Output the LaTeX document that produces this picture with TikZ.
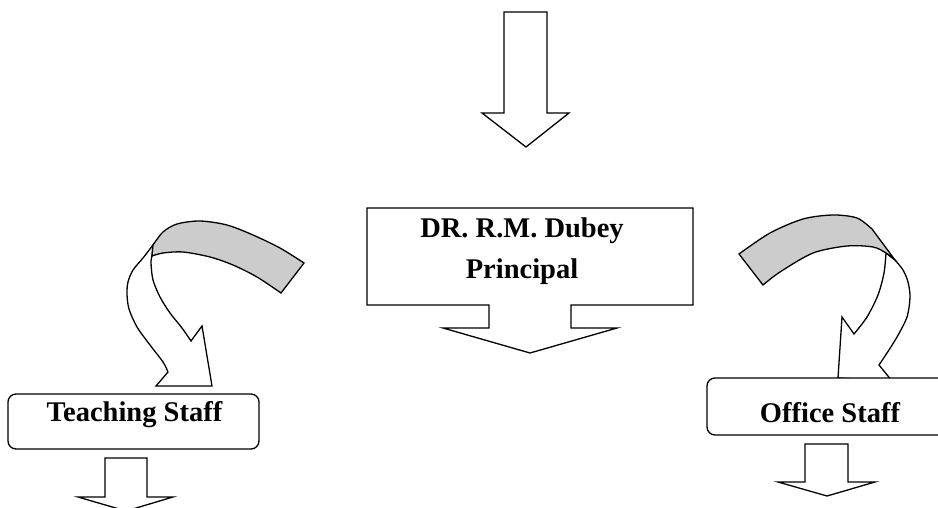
\documentclass[tikz,border=0pt]{standalone}
\usepackage{fontspec}
\setmainfont{Liberation Serif}
\begin{document}
\begin{tikzpicture}[x=1pt,y=-1pt,
  shp/.style={draw=black, fill=white, line width=1.3pt, line join=miter},
  band/.style={draw=black, fill=gray!40, line width=1.3pt},
  lbl/.style={font=\fontsize{28.5}{34}\selectfont\bfseries, inner sep=0pt, anchor=base}]
\useasboundingbox (0,0) rectangle (938,508);
\clip (0,0) rectangle (938,508);

% top block arrow
\draw[shp] (504,12) -- (547,12) -- (547,113) -- (569,113) -- (526,147) -- (482,113) -- (504,113) -- cycle;

% principal callout box
\draw[shp] (367,208) -- (693,208) -- (693,305) -- (571,305) -- (571,328) -- (617,328) -- (530,353)
  -- (443,328) -- (489,328) -- (489,305) -- (367,305) -- cycle;
\node[lbl] (p1) at (522,237) {DR. R.M. Dubey};
\node[lbl] (p2) at (522,278) {Principal};

% left curved arrow (white part)
\draw[shp] plot[smooth] coordinates {(153,245) (143,258) (133,270) (128,282) (127,294) (129,309) (137,327) (150,345) (163,362) (168,372)}
  -- (156,386) -- (212,386) -- (202,326) -- (191,341)
  -- plot[smooth] coordinates {(191,341) (182,328) (170,313) (160,297) (153,280) (151,263) (152,256)}
  -- cycle;
% left curved arrow (grey part)
\draw[band] plot[smooth] coordinates {(153,245) (163,232) (177,224) (200,221) (227,225) (253,235) (280,248) (304,263)}
  -- (281,293)
  -- plot[smooth] coordinates {(281,293) (257,277) (233,265) (210,257) (183,252) (163,253) (152,256)}
  -- cycle;

% right curved arrow (white part)
\draw[shp] plot[smooth] coordinates {(895,260) (903,270) (908,282) (910,297) (907,317) (897,337) (887,353) (879,365)}
  -- (892,381) -- (838,378) -- (842,317) -- (854,334)
  -- plot[smooth] coordinates {(854,334) (867,317) (878,295) (884,273) (886,253)}
  -- cycle;
% right curved arrow (grey part)
\draw[band] plot[smooth] coordinates {(739,254) (770,233) (803,219) (833,215) (857,218) (872,229)}
  -- (895,260)
  -- plot[smooth] coordinates {(895,260) (886,253) (873,247) (847,246) (813,253) (780,272) (763,285)}
  -- cycle;

% teaching staff box
\draw[shp, rounded corners=8pt] (8,394) rectangle (259,449);
\node[lbl] (ts) at (134.5,421) {Teaching Staff};
\draw[shp] (105,458) -- (147,458) -- (147,497) -- (173,497) -- (126,511) -- (78,497) -- (105,497) -- cycle;

% office staff box
\draw[shp, rounded corners=8pt] (707,378) rectangle (953,435);
\node[lbl] (os) at (830,422) {Office Staff};
\draw[shp] (805,444) -- (848,444) -- (848,482) -- (875,482) -- (827,496) -- (778,482) -- (805,482) -- cycle;
\end{tikzpicture}
\end{document}
